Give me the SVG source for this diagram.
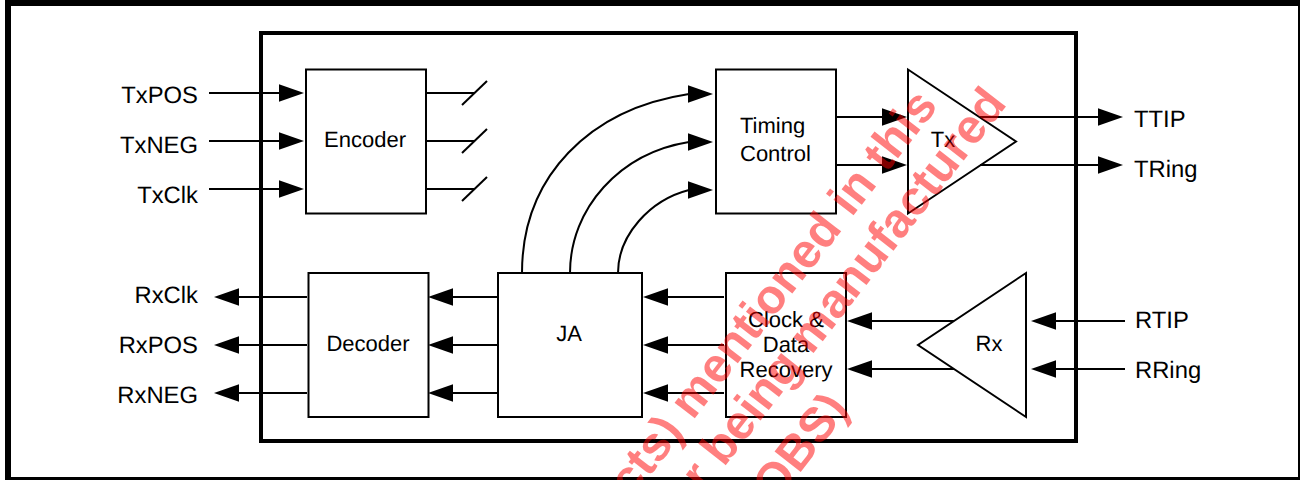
<svg xmlns="http://www.w3.org/2000/svg" width="1300" height="480" viewBox="0 0 1300 480">
<style>
.b{fill:#fff;stroke:#000;stroke-width:2}
text{text-rendering:geometricPrecision}
.t{font-family:"Liberation Sans",Arial,sans-serif;font-size:22px;fill:#000;text-anchor:middle}
.o{font-size:23.8px}
.e{text-anchor:end}
.s{text-anchor:start}
.c line,.c path{stroke:#000;stroke-width:2;fill:none}
.a{marker-end:url(#arrow)}
.h{marker-end:url(#arrowh)}
.w{font-family:"Liberation Sans",Arial,sans-serif;font-weight:bold;font-size:48.3px;fill:#f00;fill-opacity:.5;text-anchor:end}
</style>
<defs>
<marker id="arrow" markerUnits="userSpaceOnUse" markerWidth="26" markerHeight="20" refX="15" refY="9" orient="auto"><path d="M0 0.3L25 9L0 17.700Z" fill="#000" stroke="none"/></marker>
<marker id="arrowh" markerUnits="userSpaceOnUse" markerWidth="26" markerHeight="20" refX="1" refY="9" orient="0"><path d="M0 0.3L25 9L0 17.700Z" fill="#000" stroke="none"/></marker>
</defs>
<rect width="1300" height="480" fill="#fff"/>
<rect id="frame" x="8" y="3" width="1293" height="477" fill="none" stroke="#000" stroke-width="6"/>
<rect id="chip" x="261" y="33" width="815" height="408" fill="none" stroke="#000" stroke-width="4"/>
<g id="encoder"><rect class="b" x="306" y="69.500" width="120" height="144"/><text class="t" x="365" y="147">Encoder</text></g>
<g id="timing"><rect class="b" x="716" y="69.500" width="120" height="144"/><text class="t s" x="740" y="133">Timing</text><text class="t s" x="740" y="161">Control</text></g>
<g id="tx"><path class="b" d="M908 69.500V213.500L1016 141.500Z"/><text class="t" x="943" y="147">Tx</text></g>
<g id="decoder"><rect class="b" x="308.500" y="273" width="120" height="144"/><text class="t" x="368" y="351">Decoder</text></g>
<g id="ja"><rect class="b" x="498" y="273" width="144" height="144"/><text class="t" x="569" y="341">JA</text></g>
<g id="cdr"><rect class="b" x="726" y="273" width="120" height="144"/><text class="t" x="786" y="327">Clock &amp;</text><text class="t" x="786" y="352">Data</text><text class="t" x="786" y="377">Recovery</text></g>
<g id="rx"><path class="b" d="M1026 273V417L918 345Z"/><text class="t" x="989" y="351">Rx</text></g>
<g class="c" id="connectors">
<line class="a" x1="209" y1="93" x2="294" y2="93"/>
<line class="a" x1="209" y1="141" x2="294" y2="141"/>
<line class="a" x1="209" y1="189" x2="294" y2="189"/>
<line x1="426" y1="93" x2="474" y2="93"/><line x1="462" y1="105" x2="487" y2="81"/>
<line x1="426" y1="141" x2="474" y2="141"/><line x1="462" y1="153" x2="487" y2="129"/>
<line x1="426" y1="189" x2="474" y2="189"/><line x1="462" y1="201" x2="487" y2="177"/>
<path class="h" d="M522 273C522 176 590 109 689 94"/>
<path class="h" d="M570 273C570 208 620 153 689 142"/>
<path class="h" d="M618 273C618 235 650 200 689 190"/>
<line class="a" x1="836" y1="117" x2="897" y2="117"/>
<line class="a" x1="836" y1="165" x2="897" y2="165"/>
<line class="a" x1="980" y1="117" x2="1113" y2="117"/>
<line class="a" x1="980" y1="165" x2="1113" y2="165"/>
<line class="a" x1="307" y1="297" x2="224" y2="297"/>
<line class="a" x1="307" y1="345" x2="224" y2="345"/>
<line class="a" x1="307" y1="393" x2="224" y2="393"/>
<line class="a" x1="498" y1="297" x2="438" y2="297"/>
<line class="a" x1="498" y1="345" x2="438" y2="345"/>
<line class="a" x1="498" y1="393" x2="438" y2="393"/>
<line class="a" x1="724" y1="297" x2="653" y2="297"/>
<line class="a" x1="724" y1="345" x2="653" y2="345"/>
<line class="a" x1="724" y1="393" x2="653" y2="393"/>
<line class="a" x1="954" y1="321" x2="857" y2="321"/>
<line class="a" x1="954" y1="369" x2="857" y2="369"/>
<line class="a" x1="1125" y1="321" x2="1041" y2="321"/>
<line class="a" x1="1125" y1="369" x2="1041" y2="369"/>
</g>
<g id="labels">
<text class="t o e" x="198" y="103">TxPOS</text>
<text class="t o e" x="198" y="153">TxNEG</text>
<text class="t o e" x="198" y="203">TxClk</text>
<text class="t o e" x="198" y="303">RxClk</text>
<text class="t o e" x="198" y="353">RxPOS</text>
<text class="t o e" x="198" y="403">RxNEG</text>
<text class="t o s" x="1134" y="127">TTIP</text>
<text class="t o s" x="1134" y="177">TRing</text>
<text class="t o s" x="1135" y="328">RTIP</text>
<text class="t o s" x="1135" y="378">RRing</text>
</g>
<g id="watermark">
<text class="w" transform="translate(939 106) rotate(-52)">cts) mentioned in this</text>
<text class="w" transform="translate(1008 104) rotate(-52)">r being manufactured</text>
<text class="w" transform="translate(850 409) rotate(-52)">(OBS)</text>
</g>
</svg>
